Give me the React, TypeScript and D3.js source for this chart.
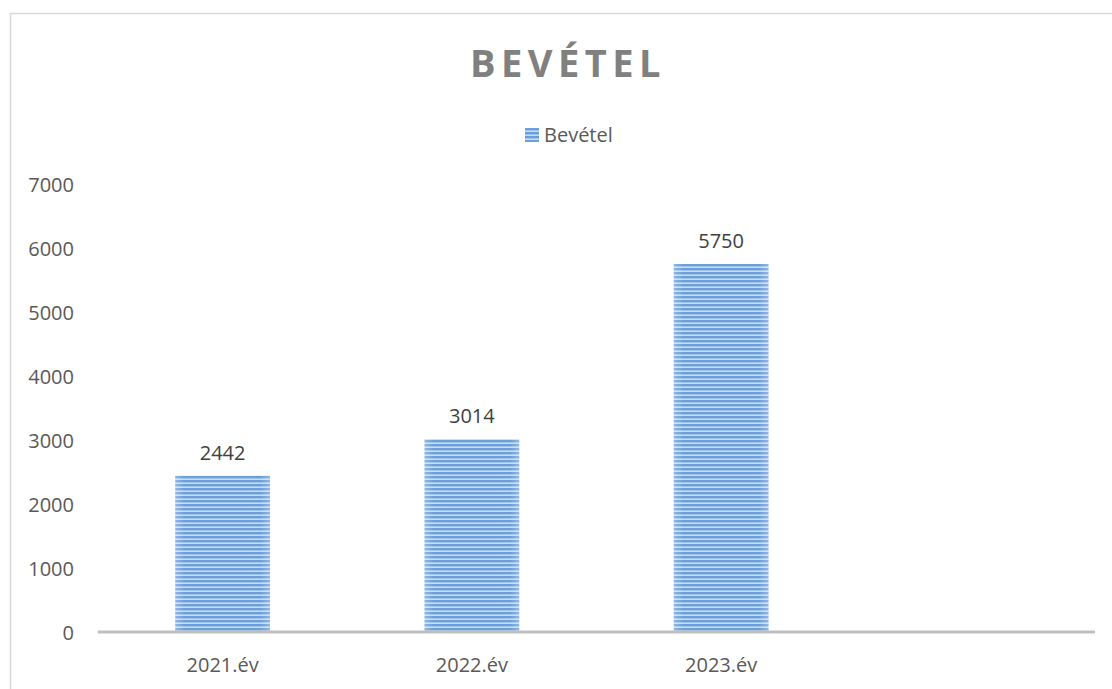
import React from "react";
import * as d3 from "d3";

const categories = ["2021.év", "2022.év", "2023.év", ""];
const values = [2442, 3014, 5750, null];
const yTicks = [0, 1000, 2000, 3000, 4000, 5000, 6000, 7000];
const seriesName = "Bevétel";
const title = "BEVÉTEL";

const W = 1112;
const H = 689;
const margin = { left: 98, right: 1095, top: 184, bottom: 632 };

export default function App() {
  const x = d3
    .scaleBand<string>()
    .domain(categories.map((c, i) => String(i)))
    .range([margin.left, margin.right])
    .paddingInner(0.62)
    .paddingOuter(0.31);
  const y = d3.scaleLinear().domain([0, 7000]).range([margin.bottom, margin.top]);
  const font = "'Open Sans', 'Noto Sans', sans-serif";
  const txt = "#595959";

  return (
    <div style={{ position: "fixed", left: 0, top: 0 }}>
      <svg width={W} height={H} style={{ display: "block", background: "#fff" }}>
        <defs>
          <pattern id="stripes" patternUnits="userSpaceOnUse" width="8" height="4">
            <rect x="0" y="0" width="8" height="4" fill="#c6dcf3" />
            <rect x="0" y="0" width="8" height="2.4" fill="#6a9fdb" />
          </pattern>
          <linearGradient id="edge" x1="0" x2="1" y1="0" y2="0">
            <stop offset="0" stopColor="#fff" stopOpacity="0.25" />
            <stop offset="0.1" stopColor="#fff" stopOpacity="0" />
            <stop offset="0.9" stopColor="#fff" stopOpacity="0" />
            <stop offset="1" stopColor="#fff" stopOpacity="0.25" />
          </linearGradient>
        </defs>
        <rect x={10.5} y={13.5} width={1200} height={800} fill="#fff" stroke="#d9d9d9" strokeWidth={1.5} />
        <text
          x={568}
          y={77}
          textAnchor="middle"
          fontFamily={font}
          fontWeight="bold"
          fontSize={38}
          letterSpacing={5.5}
          fill="#808080"
        >
          {title}
        </text>
        <g>
          <rect x={525} y={128} width={14} height={14} fill="url(#stripes)" />
          <text x={544} y={141.5} fontFamily={font} fontSize={20} fill={txt}>
            {seriesName}
          </text>
        </g>
        {yTicks.map((t) => (
          <text
            key={t}
            x={74}
            y={y(t) + 7.5}
            textAnchor="end"
            fontFamily={font}
            fontSize={20}
            fill={txt}
          >
            {t}
          </text>
        ))}
        {values.map((v, i) =>
          v == null ? null : (
            <g key={i}>
              <rect
                x={x(String(i))}
                y={y(v)}
                width={x.bandwidth()}
                height={y(0) - y(v)}
                fill="url(#stripes)"
              />
              <rect
                x={x(String(i))}
                y={y(v)}
                width={x.bandwidth()}
                height={y(0) - y(v)}
                fill="url(#edge)"
              />
              <text
                x={(x(String(i)) as number) + x.bandwidth() / 2}
                y={y(v) - 16}
                textAnchor="middle"
                fontFamily={font}
                fontSize={20}
                fill="#404040"
              >
                {v}
              </text>
            </g>
          )
        )}
        <line x1={margin.left} x2={margin.right} y1={y(0)} y2={y(0)} stroke="#bfbfbf" strokeWidth={3} />
        {categories.map((c, i) => (
          <text
            key={i}
            x={(x(String(i)) as number) + x.bandwidth() / 2}
            y={672}
            textAnchor="middle"
            fontFamily={font}
            fontSize={20}
            fill={txt}
          >
            {c}
          </text>
        ))}
      </svg>
    </div>
  );
}
